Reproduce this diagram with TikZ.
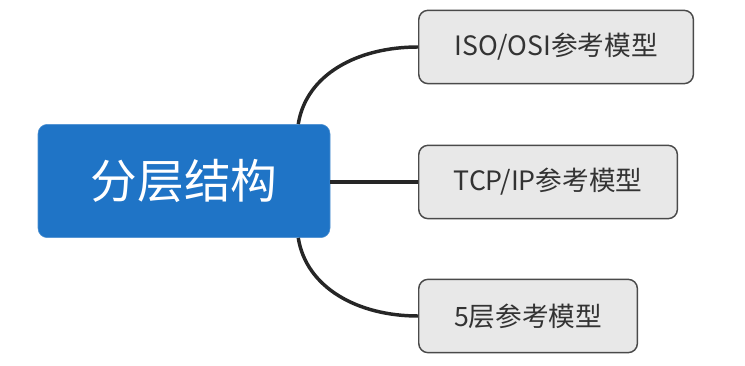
\documentclass[tikz,border=0pt]{standalone}
\usepackage{fontspec}
\setmainfont{Noto Sans CJK SC}
\usepackage{xcolor}
\definecolor{rootblue}{HTML}{1F74C6}
\definecolor{leafgray}{HTML}{E8E8E8}
\definecolor{leafline}{HTML}{4A4A4A}
\definecolor{inktext}{HTML}{333333}
\usetikzlibrary{positioning}

\begin{document}
\begin{tikzpicture}[
  x=0.75pt, y=-0.75pt,
  root/.style={fill=rootblue, draw=rootblue!80!white, rounded corners=7pt,
               minimum width=219pt, minimum height=85pt, text=white,
               font=\fontsize{35}{40}\selectfont, inner sep=0pt},
  leaf/.style={fill=leafgray, draw=leafline, line width=1.1pt, rounded corners=7pt,
               minimum height=55pt, text=inktext, anchor=west,
               font=\fontsize{20}{24}\selectfont, inner sep=0pt},
  link/.style={draw=black!85, line width=2.6pt}
]
  \useasboundingbox (0,0) rectangle (745,366);

  % central topic
  \node[root] (layers) at (184,181) {分层结构};

  % the three models
  \node[leaf, minimum width=206pt] (iso) at (418,47) {ISO/OSI参考模型};
  \node[leaf, minimum width=194pt] (tcp) at (418,182) {TCP/IP参考模型};
  \node[leaf, minimum width=164pt] (five) at (418,316) {5层参考模型};

  \draw[link] ([xshift=-24pt]layers.north east) .. controls +(8,-50) and +(-60,0) .. (iso.west);
  \draw[link] (layers.east |- tcp.west) -- (tcp.west);
  \draw[link] ([xshift=-24pt]layers.south east) .. controls +(8,50) and +(-60,0) .. (five.west);
\end{tikzpicture}
\end{document}
